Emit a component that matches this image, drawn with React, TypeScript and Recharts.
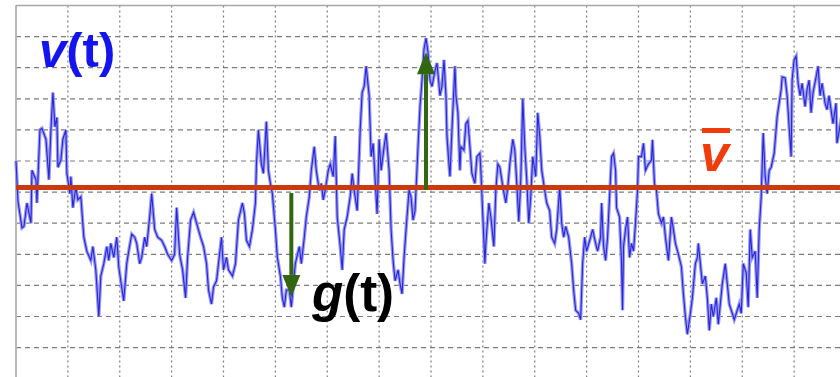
import React from 'react';
import { LineChart, Line, XAxis, YAxis, CartesianGrid, ReferenceLine } from 'recharts';

// sample times (one unit per sample, grid every 52 samples)
const times = [
  0, 2, 6, 8, 11, 15, 16, 20, 21, 24,
  26, 30, 33, 35, 37, 39, 41, 42, 45, 47,
  50, 51, 54, 55, 57, 60, 62, 65, 68, 71,
  75, 77, 80, 83, 85, 88, 91, 93, 95, 98,
  101, 103, 105, 108, 111, 113, 116, 119, 121, 124,
  126, 129, 131, 134, 136, 139, 142, 146, 149, 152,
  156, 159, 161, 164, 167, 170, 172, 175, 178, 181,
  185, 188, 191, 193, 196, 198, 201, 203, 206, 208,
  211, 213, 217, 220, 223, 227, 229, 231, 234, 237,
  240, 241, 243, 246, 248, 251, 253, 255, 257, 260,
  262, 265, 267, 269, 271, 274, 276, 280, 284, 286,
  289, 291, 294, 296, 299, 301, 304, 306, 308, 310,
  313, 315, 318, 320, 322, 325, 327, 329, 332, 335,
  337, 339, 342, 345, 347, 349, 351, 354, 356, 358,
  360, 362, 364, 366, 369, 371, 374, 376, 378, 380,
  383, 385, 387, 389, 391, 394, 396, 398, 400, 403,
  405, 407, 409, 411, 413, 415, 417, 420, 422, 425,
  427, 429, 431, 432, 434, 435, 437, 440, 441, 443,
  445, 446, 449, 451, 453, 455, 457, 460, 462, 465,
  466, 468, 470, 471, 474, 476, 479, 481, 483, 485,
  488, 491, 493, 495, 498, 500, 502, 504, 506, 508,
  510, 512, 514, 516, 518, 521, 523, 525, 527, 530,
  532, 535, 537, 540, 542, 545, 547, 549, 551, 554,
  557, 559, 561, 564, 566, 568, 570, 572, 576, 578,
  581, 583, 586, 587, 589, 591, 593, 595, 597, 599,
  601, 602, 605, 607, 608, 609, 611, 613, 615, 617,
  619, 621, 623, 624, 627, 629, 631, 634, 637, 638,
  640, 642, 644, 647, 649, 651, 654, 657, 659, 661,
  664, 667, 669, 671, 673, 676, 678, 681, 683, 684,
  686, 688, 691, 693, 695, 697, 699, 702, 704, 706,
  708, 711, 713, 715, 717, 720, 723, 725, 727, 729,
  732, 734, 736, 738, 741, 743, 745, 747, 749, 751,
  753, 755, 757, 760, 763, 765, 767, 768, 771, 773,
  775, 777, 778, 780, 782, 784, 786, 788, 791, 793,
  795, 797, 799, 802, 804, 806, 808, 811, 813, 815,
  817, 819, 822, 823, 828,
];

// velocity v(t), in grid units
const velocity = [
  1.0, -0.3, -1.15, -1.1, -0.35, -1.0, 0.7, 0.4, -0.35, 2.0,
  2.05, 1.7, 0.4, 2.0, 3.2, 2.1, 2.4, 0.8, 1.03, 1.7,
  2.0, 0.6, -0.05, 0.5, -0.5, 0.17, -0.25, -0.15, -1.45, -1.9,
  -2.2, -1.75, -2.5, -4.0, -2.7, -2.3, -1.75, -2.2, -1.65, -2.1,
  -1.45, -2.4, -2.85, -3.5, -2.3, -1.9, -1.35, -1.45, -1.65, -2.3,
  -2.1, -1.45, -1.75, -0.8, -0.05, -1.2, -1.45, -1.55, -1.75, -2.0,
  -2.2, -2.0, -0.5, -2.0, -2.5, -3.4, -2.1, -0.9, -0.65, -1.0,
  -1.45, -1.75, -2.3, -3.15, -3.6, -3.05, -2.85, -2.3, -1.45, -2.5,
  -2.1, -2.5, -2.7, -2.3, -0.9, -0.35, -0.7, -1.55, -1.75, -1.2,
  -0.35, 0.9, 2.0, 0.9, 0.6, 2.27, 0.7, 0.28, -0.05, -1.2,
  -2.1, -2.7, -3.4, -3.7, -3.15, -3.15, -3.7, -2.3, -1.75, -2.3,
  -1.45, -0.8, -0.15, 0.7, 1.46, 0.7, 0.06, 0.28, -0.25, 0.06,
  0.7, 0.9, 0.5, 1.8, -0.8, -1.75, -2.5, -1.2, -0.8, -0.15,
  0.6, 0.06, -0.6, 2.0, 3.2, 3.4, 4.05, 3.1, 1.14, 1.57,
  0.4, -0.7, 1.7, 0.7, 1.46, 1.9, 0.7, -1.2, -2.2, -2.85,
  -2.5, -2.95, -3.27, -2.1, -1.2, 0.06, -0.15, -0.9, -0.6, 1.46,
  2.75, 3.6, 4.6, 4.95, 4.5, 3.6, 3.4, 3.9, 4.15, 3.1,
  3.4, 4.25, 3.1, 1.8, 0.9, 0.5, 2.0, 4.05, 3.1, 2.55,
  0.7, 1.46, 1.35, 2.2, 2.3, 1.46, 0.6, 0.28, 1.14, 1.25,
  0.7, -0.8, -2.3, -1.65, -0.35, -0.8, -1.75, 0.06, 0.9, 0.8,
  0.17, -0.35, 0.17, 0.9, 1.7, 1.35, 0.28, -0.95, 0.4, 3.0,
  1.46, 0.4, -1.0, -0.15, 1.14, 0.5, 2.55, 1.8, 0.7, 0.06,
  -0.35, -0.6, -1.45, -1.65, -1.2, 0.17, -1.0, -1.45, -1.1, -1.45,
  -2.3, -3.15, -3.8, -3.9, -4.1, -2.3, -1.45, -1.9, -1.45, -1.2,
  -1.65, -1.9, -1.45, -0.35, -1.75, -2.2, -1.45, -0.15, 1.14, 1.25,
  0.7, -0.5, -0.8, -2.3, -3.8, -1.75, -1.2, -0.8, -2.1, -1.65,
  -1.9, -1.0, 0.06, 1.14, 1.14, 1.57, 0.7, 0.9, 1.03, 1.68,
  0.28, 0.06, -0.7, -1.0, -0.8, -1.45, -2.2, -0.8, -1.2, -1.65,
  -2.0, -2.4, -3.27, -4.0, -4.57, -3.9, -3.4, -2.3, -2.1, -1.65,
  -2.3, -2.95, -2.7, -3.4, -4.45, -3.6, -4.0, -3.4, -4.25, -3.6,
  -2.95, -2.3, -2.95, -3.6, -3.8, -4.1, -3.8, -3.6, -3.9, -2.3,
  -2.6, -3.7, -1.2, -2.1, -1.9, -3.4, -1.2, -0.15, 1.9, 0.5,
  -0.05, 0.7, 0.8, 1.25, 2.43, 2.86, 3.3, 3.7, 3.67, 3.1,
  2.1, 1.14, 3.6, 4.25, 4.37, 3.5, 3.1, 3.5, 2.75, 3.3,
  3.6, 2.55, 3.2, 3.7, 4.05, 3.1, 3.5, 2.86, 2.65, 3.1,
  2.65, 2.2, 2.86, 1.57, 2.5,
];

// mean velocity v-bar
const MEAN = 0.15;

const X_TICKS = [0, 52, 104, 156, 208, 260, 312, 364, 416, 468, 520, 572, 624, 676, 728, 780, 832];
const Y_TICKS = [-6, -5, -4, -3, -2, -1, 0, 1, 2, 3, 4, 5, 6];

// fluctuation arrows g(t) = v(t) - v-bar: time, start, tip
const arrowTimes = [276, 411];
const arrowFrom = [-0.03, 0.07];
const arrowTo = [-3.37, 4.5];

const data = times.map((t, i) => ({ t, v: velocity[i] }));

const GREEN = '#336611';
const RED = '#c93a0c';

const Arrow = (props: any) => {
  const { x1, y1, x2, y2 } = props;
  const dir = y2 > y1 ? 1 : -1;
  const head = 22;
  const half = 9;
  const baseY = y2 - dir * head;
  return (
    <g>
      <line x1={x1} y1={y1} x2={x1} y2={baseY} stroke={GREEN} strokeWidth={4} />
      <polygon points={`${x2 - half},${baseY} ${x2 + half},${baseY} ${x2},${y2}`} fill={GREEN} />
    </g>
  );
};

const FONT = '"Liberation Sans", Arial, sans-serif';

export default function App() {
  return (
    <div style={{ position: 'absolute', left: 0, top: 0, width: 840, height: 377, overflow: 'hidden', background: '#fff' }}>
      <LineChart width={860} height={385} data={data} margin={{ top: 5.5, left: 16, right: 14, bottom: 6.3 }}>
        <XAxis type="number" dataKey="t" domain={[0, 832]} ticks={X_TICKS} hide />
        <YAxis type="number" domain={[-6, 6]} ticks={Y_TICKS} hide />
        <CartesianGrid horizontal={false} stroke="#7c7c7c" strokeWidth={1.2} strokeDasharray="2 3" />
        <CartesianGrid vertical={false} stroke="#7c7c7c" strokeWidth={1.2} strokeDasharray="5 4" />
        <ReferenceLine x={0} stroke="#b8b8b8" strokeWidth={2} />
        <ReferenceLine y={6} stroke="#a8a8a8" strokeWidth={1.5} />
        <Line dataKey="v" type="linear" stroke="#9a9af4" strokeWidth={3.4} dot={false} isAnimationActive={false} />
        <Line dataKey="v" type="linear" stroke="#2626d8" strokeWidth={1.1} dot={false} isAnimationActive={false} />
        <ReferenceLine y={MEAN} stroke={RED} strokeWidth={5} />
        {arrowTimes.map((t, i) => (
          <ReferenceLine
            key={t}
            segment={[{ x: t, y: arrowFrom[i] }, { x: t, y: arrowTo[i] }]}
            shape={Arrow}
          />
        ))}
      </LineChart>
      <svg width={840} height={377} style={{ position: 'absolute', left: 0, top: 0, pointerEvents: 'none' }}>
        <text x={39} y={67} fill="#1414ee" fontFamily={FONT} fontWeight="bold" fontSize={49}>
          <tspan fontStyle="italic">v</tspan>(t)
        </text>
        <text x={312} y={311} fill="#000" fontFamily={FONT} fontWeight="bold" fontSize={51}>
          <tspan fontStyle="italic">g</tspan>(t)
        </text>
        <rect x={702} y={128} width={28} height={5} fill="#f03c0a" />
        <text x={700} y={171} fill="#f03c0a" fontFamily={FONT} fontWeight="bold" fontStyle="italic" fontSize={52}>
          v
        </text>
      </svg>
    </div>
  );
}
